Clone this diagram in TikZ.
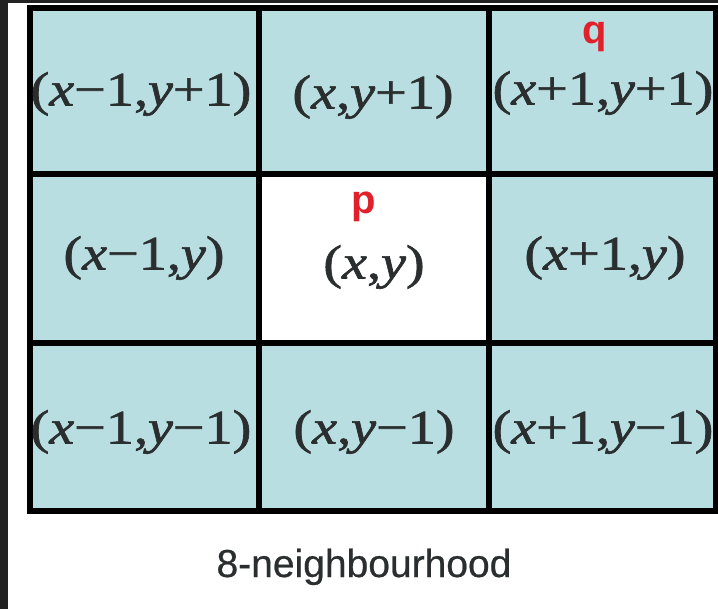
\documentclass[tikz,border=0pt]{standalone}
\usepackage{fontspec}
\usepackage{graphicx}
\setmainfont{Liberation Serif}
\newfontfamily\labfont[FakeBold=1.2]{Liberation Serif}
\newfontfamily\capfont{Liberation Sans}
\newfontfamily\capfontb[FakeBold=0.6]{Liberation Sans}
\definecolor{cellblue}{HTML}{B9DEE2}
\definecolor{darkbg}{HTML}{222222}
\definecolor{labelgray}{HTML}{2A2E2E}
\definecolor{markred}{HTML}{E0202A}
\newcommand{\mn}{\char"2212\relax}
\tikzset{
  coord/.style={inner sep=0pt, outer sep=0pt, text=labelgray,
    font=\labfont\fontsize{48}{48}\selectfont},
  ptlabel/.style={inner sep=0pt, text=markred,
    font=\capfont\bfseries\fontsize{40}{40}\selectfont},
  gridline/.style={line width=6pt, black, line cap=rect},
}
\newcommand{\lbl}[1]{\scalebox{1.17}[1]{#1}}
\begin{document}
\begin{tikzpicture}[x=1pt,y=-1pt]
\useasboundingbox (0,0) rectangle (718,609);
\fill[darkbg] (0,0) rectangle (718,609);
\fill[white] (8,3) rectangle (718,609);
% cells
\fill[cellblue] (30,8) rectangle (716,511);
\fill[white] (259,174) rectangle (489,343);
% grid lines
\draw[gridline] (30,8) -- (716,8);
\draw[gridline] (30,174) -- (716,174);
\draw[gridline] (30,343) -- (716,343);
\draw[gridline] (30,511) -- (716,511);
\draw[gridline] (30,8) -- (30,511);
\draw[gridline] (259,8) -- (259,511);
\draw[gridline] (489,8) -- (489,511);
\draw[gridline] (716,8) -- (716,511);
% labels
\node[coord] (tl) at (141,94) {\lbl{(\textit{x}\mn 1,\textit{y}+1)}};
\node[coord] (tc) at (373,97) {\lbl{(\textit{x},\textit{y}+1)}};
\node[coord] (tr) at (603,93) {\lbl{(\textit{x}+1,\textit{y}+1)}};
\node[coord] (ml) at (144,258) {\lbl{(\textit{x}\mn 1,\textit{y})}};
\node[coord] (mc) at (374,267) {\lbl{(\textit{x},\textit{y})}};
\node[coord] (mr) at (605,258) {\lbl{(\textit{x}+1,\textit{y})}};
\node[coord] (bl) at (141,432) {\lbl{(\textit{x}\mn 1,\textit{y}\mn 1)}};
\node[coord] (bc) at (374,432) {\lbl{(\textit{x},\textit{y}\mn 1)}};
\node[coord] (br) at (603,432) {\lbl{(\textit{x}+1,\textit{y}\mn 1)}};
\node[ptlabel, anchor=base] (p) at (364,214) {p};
\node[ptlabel, anchor=base] (q) at (595,44) {q};
\node[anchor=base, inner sep=0pt, text=labelgray, font=\capfontb\fontsize{39}{39}\selectfont] (cap) at (364,577) {8-neighbourhood};
\end{tikzpicture}
\end{document}
